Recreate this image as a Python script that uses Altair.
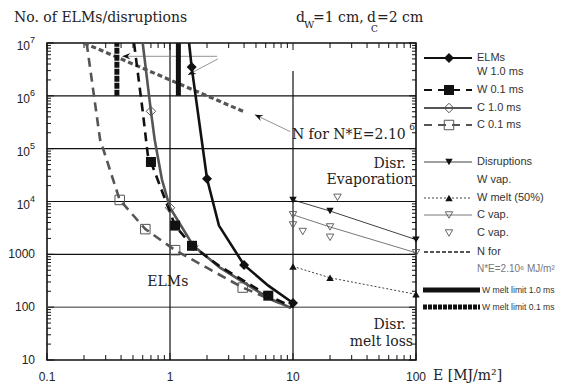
import altair as alt
import pandas as pd

# ---------------- data ----------------
# ELMs, W 1.0 ms (solid black line, filled diamonds)
w10_E = [1.43, 1.5, 2.0, 2.5, 4.0, 6.3, 10.0]
w10_N = [1.0e7, 3.5e6, 2.7e4, 3.5e3, 630, 255, 120]
w10_mk_E = [1.5, 2.0, 4.0, 10.0]
w10_mk_N = [3.5e6, 2.7e4, 630, 120]
# ELMs, W 0.1 ms (dashed black line, filled squares)
w01_E = [0.51, 0.60, 0.66, 0.70, 1.10, 1.51, 2.55, 6.3, 10.0]
w01_N = [1.0e7, 5.1e5, 7.6e4, 5.6e4, 3.5e3, 1.45e3, 590, 165, 100]
w01_mk_E = [0.70, 1.10, 1.51, 6.3]
w01_mk_N = [5.6e4, 3.5e3, 1.45e3, 165]
# ELMs, C 1.0 ms (solid grey line, open diamonds)
c10_E = [0.60, 0.70, 0.75, 0.86, 1.0, 1.55, 2.55, 6.3, 9.6]
c10_N = [1.0e7, 5.1e5, 1.5e5, 2.6e4, 7.6e3, 1.45e3, 560, 150, 97]
c10_mk_E = [0.70, 1.0, 1.55]
c10_mk_N = [5.1e5, 7.6e3, 1.45e3]
# ELMs, C 0.1 ms (dashed grey line, open squares)
c01_E = [0.21, 0.27, 0.39, 0.63, 1.10, 3.9, 9.6]
c01_N = [1.0e7, 1.5e5, 1.07e4, 3.0e3, 1.2e3, 235, 97]
c01_mk_E = [0.39, 0.63, 1.10, 3.9]
c01_mk_N = [1.07e4, 3.0e3, 1.2e3, 235]
# Disruptions
wvap_E = [10, 20, 100]
wvap_N = [1.07e4, 6.6e3, 1.9e3]
wmelt_E = [10, 20, 100]
wmelt_N = [590, 360, 175]
cvap_E = [10, 20, 100]
cvap_N = [5.6e3, 3.3e3, 1.07e3]
cvap2_E = [10, 12, 20, 23]
cvap2_N = [3.6e3, 2.7e3, 2.1e3, 1.2e4]
# N for N*E = 2e6 MJ/m2
nfor_E = [0.2, 4.0]
nfor_N = [1.0e7, 5.0e5]
# W melt limits (vertical bars)
ml10_E, ml01_E = [1.17], [0.37]
ml_N_lo, ml_N_hi = [1.0e6], [1.0e7]
# arrows: head (E,N), tail (E,N), head angle
arr_head_E = [0.41, 1.40, 4.9]
arr_head_N = [5.6e6, 2.5e6, 4.4e5]
arr_tail_E = [2.41, 2.45, 9.5]
arr_tail_N = [5.6e6, 5.0e6, 2.1e5]
arr_angle = [180, 152, 206]

# axis ticks / labels
x_major = [0.1, 1, 10, 100]
x_labels = ["0.1", "1", "10", "100"]
x_minor = [m * 10.0 ** k for k in (-1, 0, 1) for m in range(2, 10)]
y_major = [10, 100, 1e3, 1e4, 1e5, 1e6, 1e7]
y_minor = [m * 10.0 ** k for k in range(1, 7) for m in range(2, 10)]
y_sup_vals = [1e7, 1e6, 1e5, 1e4]
y_sup_base = ["10", "10", "10", "10"]
y_sup_exp = ["7", "6", "5", "4"]
y_plain_vals = [1e3, 100, 10]
y_plain_txt = ["1000", "100", "10"]
grid_h_black = [1e6, 1e5, 1e4, 1e3]
grid_h_grey = [100]

PW, PH = 369, 317
SERIF = "DejaVu Serif"
SANS = "Liberation Sans"
BLACK = "#111111"
GREY = "#555555"

xs = alt.Scale(type="log", domain=[0.1, 100], nice=False)
ys = alt.Scale(type="log", domain=[10, 1e7], nice=False)


def X(f="E"):
    return alt.X(f"{f}:Q", scale=xs, axis=None)


def Y(f="N"):
    return alt.Y(f"{f}:Q", scale=ys, axis=None)


dummy = pd.DataFrame({"k": [0]})


def line(E, N, color, width, dash=None):
    df = pd.DataFrame({"E": E, "N": N, "o": list(range(len(E)))})
    kw = dict(color=color, strokeWidth=width, clip=True, strokeCap="butt")
    if dash:
        kw["strokeDash"] = dash
    return alt.Chart(df).mark_line(**kw).encode(x=X(), y=Y(), order="o:Q")


def pts(E, N, shape, size, filled, color, sw=1.0):
    df = pd.DataFrame({"E": E, "N": N})
    return alt.Chart(df).mark_point(shape=shape, size=size, filled=filled, color=color,
                                    strokeWidth=sw, opacity=1).encode(x=X(), y=Y())


def vtext(txt, x, y, size=11, font=SANS, color="#333333", align="left"):
    return alt.Chart(dummy).mark_text(text=txt, font=font, fontSize=size, color=color,
                                      align=align, baseline="middle").encode(
        x=alt.value(x), y=alt.value(y))


def vrule(x1, x2, y, color, width, dash=None):
    kw = dict(color=color, strokeWidth=width, strokeCap="butt")
    if dash:
        kw["strokeDash"] = dash
    return alt.Chart(dummy).mark_rule(**kw).encode(x=alt.value(x1), x2=alt.value(x2), y=alt.value(y))


def vpoint(x, y, shape, size, filled, color, sw=1.0):
    return alt.Chart(dummy).mark_point(shape=shape, size=size, filled=filled, color=color,
                                       strokeWidth=sw, opacity=1).encode(x=alt.value(x), y=alt.value(y))


layers = []

# ---- grid ----
layers.append(alt.Chart(pd.DataFrame({"N": grid_h_black})).mark_rule(color=BLACK, strokeWidth=1.2)
              .encode(y=Y(), x=alt.value(0), x2=alt.value(PW)))
layers.append(alt.Chart(pd.DataFrame({"N": grid_h_grey})).mark_rule(color="#777777", strokeWidth=1.5)
              .encode(y=Y(), x=alt.value(0), x2=alt.value(PW)))
layers.append(alt.Chart(pd.DataFrame({"E": [1], "N": [10], "N2": [1e7]})).mark_rule(color=BLACK, strokeWidth=1.2)
              .encode(x=X(), y=Y(), y2="N2:Q"))
layers.append(alt.Chart(pd.DataFrame({"E": [10], "N": [10], "N2": [2.95e6]})).mark_rule(color=BLACK, strokeWidth=1.2)
              .encode(x=X(), y=Y(), y2="N2:Q"))

# ---- ticks (inward on all four sides) ----
for vals, ln in ((x_major, 7), (x_minor, 5)):
    d = pd.DataFrame({"E": vals})
    layers.append(alt.Chart(d).mark_rule(color=BLACK, strokeWidth=1).encode(x=X(), y=alt.value(0), y2=alt.value(ln)))
    layers.append(alt.Chart(d).mark_rule(color=BLACK, strokeWidth=1).encode(x=X(), y=alt.value(PH), y2=alt.value(PH - ln)))
for vals, ln in ((y_major, 7), (y_minor, 4)):
    d = pd.DataFrame({"N": vals})
    layers.append(alt.Chart(d).mark_rule(color=BLACK, strokeWidth=1).encode(y=Y(), x=alt.value(0), x2=alt.value(ln)))
    layers.append(alt.Chart(d).mark_rule(color=BLACK, strokeWidth=1).encode(y=Y(), x=alt.value(PW), x2=alt.value(PW - ln)))

# ---- arrows ----
for i in range(3):
    d = pd.DataFrame({"E": [arr_head_E[i], arr_tail_E[i]], "N": [arr_head_N[i], arr_tail_N[i]], "o": [0, 1]})
    layers.append(alt.Chart(d).mark_line(color="#777777", strokeWidth=0.8).encode(x=X(), y=Y(), order="o:Q"))
HEAD = "M0,0 L-2,-0.8 L-1.3,0 L-2,0.8 Z"
for i in range(3):
    d = pd.DataFrame({"E": [arr_head_E[i]], "N": [arr_head_N[i]]})
    layers.append(alt.Chart(d).mark_point(shape=HEAD, size=64, filled=True, color=BLACK, opacity=1,
                                          angle=arr_angle[i]).encode(x=X(), y=Y()))

# ---- series lines ----
layers.append(line(nfor_E, nfor_N, GREY, 3.2, [5, 3]))
layers.append(line(c01_E, c01_N, GREY, 2.6, [9, 6]))
layers.append(line(c10_E, c10_N, GREY, 2.6))
layers.append(line(w01_E, w01_N, BLACK, 2.6, [9, 6]))
layers.append(line(w10_E, w10_N, BLACK, 2.6))
layers.append(line(wvap_E, wvap_N, BLACK, 0.8))
layers.append(line(cvap_E, cvap_N, GREY, 0.8))
layers.append(line(wmelt_E, wmelt_N, BLACK, 0.8, [2, 2]))

# melt limits
layers.append(alt.Chart(pd.DataFrame({"E": ml10_E, "N": ml_N_lo, "N2": ml_N_hi})).mark_rule(
    color=BLACK, strokeWidth=5, strokeCap="butt").encode(x=X(), y=Y(), y2="N2:Q"))
layers.append(alt.Chart(pd.DataFrame({"E": ml01_E, "N": ml_N_lo, "N2": ml_N_hi})).mark_rule(
    color=BLACK, strokeWidth=5, strokeDash=[6, 1], strokeCap="butt").encode(x=X(), y=Y(), y2="N2:Q"))

# ---- markers ----
layers.append(pts(c01_mk_E, c01_mk_N, "square", 90, False, GREY, 1.0))
layers.append(pts(c10_mk_E, c10_mk_N, "diamond", 90, False, GREY, 1.0))
layers.append(pts(w01_mk_E, w01_mk_N, "square", 100, True, BLACK))
layers.append(pts(w10_mk_E, w10_mk_N, "diamond", 100, True, BLACK))
layers.append(pts(wvap_E, wvap_N, "triangle-down", 55, True, BLACK))
layers.append(pts(wmelt_E, wmelt_N, "triangle-up", 55, True, BLACK))
layers.append(pts(cvap_E, cvap_N, "triangle-down", 55, False, GREY, 0.9))
layers.append(pts(cvap2_E, cvap2_N, "triangle-down", 55, False, GREY, 0.9))


# ---- annotations in the plot ----
def dtext(txt, E, N, align="left", size=14, font=SERIF):
    d = pd.DataFrame({"E": [E], "N": [N]})
    return alt.Chart(d).mark_text(text=txt, font=font, fontSize=size, color="#222222", align=align,
                                  baseline="middle").encode(x=X(), y=Y())


layers.append(dtext("ELMs", 0.96, 300, "center"))
layers.append(dtext("Disr.", 83, 5.2e4, "right"))
layers.append(dtext("Evaporation", 94.6, 2.6e4, "right"))
layers.append(dtext("Disr.", 83, 46.7, "right"))
layers.append(dtext("melt loss", 94.6, 22.3, "right"))
layers.append(dtext("N for N*E=2.10", 9.8, 1.8e5, "left"))
layers.append(dtext("6", 88.0, 2.55e5, "left", size=9))

# ---- axis labels ----
layers.append(alt.Chart(pd.DataFrame({"E": x_major, "t": x_labels})).mark_text(
    font=SANS, fontSize=12, color="#222222", baseline="middle").encode(x=X(), y=alt.value(334), text="t:N"))
layers.append(alt.Chart(pd.DataFrame({"N": y_plain_vals, "t": y_plain_txt})).mark_text(
    font=SANS, fontSize=12, color="#222222", baseline="middle", align="right").encode(
    y=Y(), x=alt.value(-12), text="t:N"))
layers.append(alt.Chart(pd.DataFrame({"N": y_sup_vals, "t": y_sup_base})).mark_text(
    font=SANS, fontSize=12, color="#222222", baseline="middle", align="right", dy=3).encode(
    y=Y(), x=alt.value(-17), text="t:N"))
layers.append(alt.Chart(pd.DataFrame({"N": y_sup_vals, "t": y_sup_exp})).mark_text(
    font=SANS, fontSize=9, color="#222222", baseline="middle", align="left", dy=-3).encode(
    y=Y(), x=alt.value(-17), text="t:N"))
layers.append(vtext("E [MJ/m²]", 386, 333, size=14, font=SERIF, color="#222222"))

# ---- titles ----
layers.append(vtext("No. of ELMs/disruptions", -33, -25, size=14, font=SERIF, color="#222222"))
layers.append(vtext("d", 249, -25, size=14, font=SERIF, color="#222222"))
layers.append(vtext("W", 257, -18, size=10, font=SERIF, color="#222222"))
layers.append(vtext("=1 cm,", 266, -25, size=14, font=SERIF, color="#222222"))
layers.append(vtext("d", 320, -25, size=14, font=SERIF, color="#222222"))
layers.append(vtext("C", 324, -14, size=9, font=SERIF, color="#222222"))
layers.append(vtext("=2 cm", 330, -25, size=14, font=SERIF, color="#222222"))

# ---- legend (drawn at fixed pixel positions right of the plot) ----
LX1, LX2, LM, LT = 377, 425, 402, 430
MX2, MT = 433, 435
layers += [
    vrule(LX1, LX2, 15, BLACK, 2.2), vpoint(LM, 15, "diamond", 100, True, BLACK),
    vtext("ELMs", LT, 15), vtext("W 1.0 ms", LT, 29),
    vrule(LX1, LX2, 47, BLACK, 2.2, [8, 6]), vpoint(LM, 47, "square", 100, True, BLACK),
    vtext("W 0.1 ms", LT, 47),
    vrule(LX1, LX2, 65, GREY, 2.2), vpoint(LM, 65, "diamond", 90, False, GREY),
    vtext("C 1.0 ms", LT, 65),
    vrule(LX1, LX2, 82, GREY, 2.2, [8, 6]), vpoint(LM, 82, "square", 90, False, GREY),
    vtext("C 0.1 ms", LT, 82),
    vrule(LX1, LX2, 119, BLACK, 0.8), vpoint(LM, 119, "triangle-down", 55, True, BLACK),
    vtext("Disruptions", LT, 119), vtext("W vap.", LT, 137),
    vrule(LX1, LX2, 155, BLACK, 0.8, [2, 2]), vpoint(LM, 155, "triangle-up", 55, True, BLACK),
    vtext("W melt (50%)", LT, 155),
    vrule(LX1, LX2, 172, GREY, 0.8), vpoint(LM, 172, "triangle-down", 55, False, GREY, 0.9),
    vtext("C vap.", LT, 172),
    vpoint(LM, 190, "triangle-down", 55, False, GREY, 0.9), vtext("C vap.", LT, 190),
    vrule(LX1, LX2, 209, GREY, 2.2, [4, 2]), vtext("N for", LT, 209),
    vtext("N*E=2.10⁶ MJ/m²", LT, 226, size=10, color="#777777"),
    vrule(LX1 - 1, MX2, 247, BLACK, 5), vtext("W melt limit 1.0 ms", MT, 247, size=8.6),
    vrule(LX1 - 1, MX2, 264, BLACK, 5, [4, 1]), vtext("W melt limit 0.1 ms", MT, 264, size=8.6),
]

chart = alt.layer(*layers).properties(
    width=PW, height=PH,
    padding={"left": 39, "top": 35, "right": 140, "bottom": 26},
    autosize=alt.AutoSizeParams(type="none"),
    background="white",
).configure_view(stroke=BLACK, strokeWidth=1.6)

chart.save("out.html", embed_options={"renderer": "svg", "actions": False})
